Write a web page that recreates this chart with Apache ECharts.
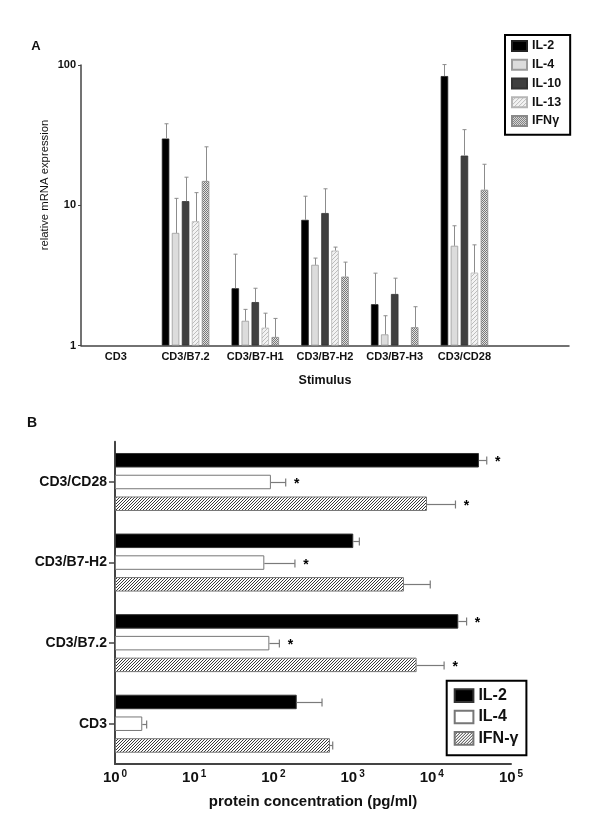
<!DOCTYPE html>
<html><head><meta charset="utf-8">
<script src="https://cdn.jsdelivr.net/npm/echarts@6/dist/echarts.min.js"></script>
<style>
html,body{margin:0;padding:0;background:#fff;width:600px;height:831px;overflow:hidden}
#a{position:absolute;left:0;top:0;width:600px;height:395px}
#b{position:absolute;left:0;top:395px;width:600px;height:436px}
</style>
</head><body><div id="a"></div><div id="b"></div>
<script>
// ---------- Panel A data ----------
const categoriesA = ['CD3','CD3/B7.2','CD3/B7-H1','CD3/B7-H2','CD3/B7-H3','CD3/CD28',''];
const seriesNamesA = ['IL-2','IL-4','IL-10','IL-13','IFNγ'];
const il2A     = [null, 29.9, 2.56, 7.87, 1.97, 83.4, null];
const il2AErr  = [null, 38.1, 4.48, 11.6, 3.28, 100.7, null];
const il4A     = [null, 6.35, 1.50, 3.76, 1.20, 5.14, null];
const il4AErr  = [null, 11.2, 1.81, 4.20, 1.63, 7.14, null];
const il10A    = [null, 10.7, 2.04, 8.80, 2.33, 22.6, null];
const il10AErr = [null, 15.85, 2.56, 13.1, 3.02, 34.6, null];
const il13A    = [null, 7.69, 1.34, 4.75, null, 3.31, null];
const il13AErr = [null, 12.3, 1.70, 5.03, null, 5.22, null];
const ifnA     = [null, 14.9, 1.15, 3.10, 1.35, 12.9, null];
const ifnAErr  = [null, 26.1, 1.56, 3.93, 1.89, 19.6, null];
const tickLabelsA = ['1','10','100'];

// ---------- Panel B data ----------
const categoriesB = ['CD3','CD3/B7.2','CD3/B7-H2','CD3/CD28'];
const seriesNamesB = ['IL-2','IL-4','IFN-γ'];
const il2B    = [197, 21600, 1020, 39400];
const il2BErr = [411, 27500, 1217, 49400];
const il4B    = [2.21, 88.9, 76.8, 93];
const il4BErr = [2.51, 119, 187, 143];
const ifnB    = [518, 6430, 4450, 8700];
const ifnBErr = [561, 14300, 9560, 19900];
const sigIL2B = [0, 1, 0, 1];
const sigIL4B = [0, 1, 1, 1];
const sigIFNB = [0, 1, 0, 1];
const tickExpB = ['0','1','2','3','4','5'];

const FONT = '"Liberation Sans", Arial, Helvetica, sans-serif';

function pat(w, h, bg, fg, cells) {
  const c = document.createElement('canvas');
  c.width = w; c.height = h;
  const g = c.getContext('2d');
  g.fillStyle = bg; g.fillRect(0, 0, w, h);
  g.fillStyle = fg;
  cells.forEach(p => g.fillRect(p[0], p[1], 1, 1));
  return { image: c, repeat: 'repeat' };
}

function errSeries(vals, errs, sig, slot, mid, pitch, horizontal, color, cap) {
  const data = [];
  vals.forEach((v, i) => {
    if (v != null && errs[i] != null) data.push([i, v, errs[i], sig ? sig[i] : 0]);
  });
  return {
    type: 'custom', silent: true, z: 5, data,
    encode: horizontal ? { x: [1, 2], y: 0 } : { x: 0, y: [1, 2] },
    renderItem(params, api) {
      const cat = api.value(0), v = api.value(1), e = api.value(2), s = api.value(3);
      const off = (slot - mid) * pitch;
      const ch = [];
      if (!horizontal) {
        const p0 = api.coord([cat, v]), p1 = api.coord([cat, e]);
        const x = Math.round(p0[0] + off) + 0.5;
        ch.push({ type: 'line', shape: { x1: x, y1: p0[1], x2: x, y2: p1[1] }, style: { stroke: color, lineWidth: 1 } });
        ch.push({ type: 'line', shape: { x1: x - cap, y1: p1[1], x2: x + cap, y2: p1[1] }, style: { stroke: color, lineWidth: 1 } });
      } else {
        const p0 = api.coord([v, cat]), p1 = api.coord([e, cat]);
        const y = Math.round(p0[1] + off) + 0.5;
        ch.push({ type: 'line', shape: { x1: p0[0], y1: y, x2: p1[0], y2: y }, style: { stroke: color, lineWidth: 1.2 } });
        ch.push({ type: 'line', shape: { x1: p1[0], y1: y - cap, x2: p1[0], y2: y + cap }, style: { stroke: color, lineWidth: 1.2 } });
        if (s) ch.push({ type: 'text', style: { text: '*', x: p1[0] + 11, y: y + 2, align: 'center', verticalAlign: 'middle', font: 'bold 14px ' + FONT, fill: '#000' } });
      }
      return { type: 'group', children: ch };
    }
  };
}

// ---------- Chart A ----------
const colorsA = [
  { color: '#000000', border: '#222' },
  { color: '#dcdcdc', border: '#9a9a9a' },
  { color: '#404040', border: '#333' },
  { color: pat(4, 4, '#f3f3f3', '#bcbcbc', [[0,3],[1,2],[2,1],[3,0]]), border: '#b5b5b5' },
  { color: pat(2, 2, '#e2e2e2', '#777777', [[0,0],[1,1]]), border: '#8a8a8a' }
];
const valsA = [il2A, il4A, il10A, il13A, ifnA];
const errsA = [il2AErr, il4AErr, il10AErr, il13AErr, ifnAErr];

const seriesA = [];
valsA.forEach((vals, k) => {
  seriesA.push({
    name: seriesNamesA[k], type: 'bar', data: vals, barWidth: 7.5, barGap: '33.3%',
    itemStyle: { color: colorsA[k].color, borderColor: colorsA[k].border, borderWidth: 0.8 },
    emphasis: { disabled: true }
  });
});
valsA.forEach((vals, k) => seriesA.push(errSeries(vals, errsA[k], null, k, 2, 10, false, '#8c8c8c', 2)));

const chartA = echarts.init(document.getElementById('a'), null, { renderer: 'canvas' });
chartA.setOption({
  animation: false,
  textStyle: { fontFamily: FONT },
  grid: { left: 81, right: 31, top: 65, bottom: 49.5, containLabel: false },
  legend: {
    orient: 'vertical', left: 505, top: 35, data: seriesNamesA, selectedMode: false,
    icon: 'rect', itemWidth: 15, itemHeight: 10, itemGap: 5,
    padding: [4, 9, 7, 6], borderColor: '#000', borderWidth: 2,
    textStyle: { fontFamily: FONT, fontSize: 12.5, fontWeight: 'bold', color: '#111', lineHeight: 13.75 }
  },
  xAxis: {
    type: 'category', data: categoriesA,
    axisLine: { lineStyle: { color: '#444', width: 1.5 } },
    axisTick: { show: false },
    axisLabel: { fontFamily: FONT, fontSize: 11, fontWeight: 'bold', color: '#111', margin: 6, interval: 0 },
    name: 'Stimulus', nameLocation: 'middle', nameGap: 29,
    nameTextStyle: { fontFamily: FONT, fontSize: 12.5, fontWeight: 'bold', color: '#111' }
  },
  yAxis: {
    type: 'log', logBase: 10, min: 1, max: 100,
    axisLine: { show: true, lineStyle: { color: '#444', width: 1.5 } },
    axisTick: { show: true, length: 3, lineStyle: { color: '#444' } },
    minorTick: { show: false }, splitLine: { show: false },
    axisLabel: { fontFamily: FONT, fontSize: 11, fontWeight: 'bold', color: '#111', margin: 5,
      formatter: v => tickLabelsA[Math.round(Math.log10(v))] }
  },
  graphic: [
    { type: 'text', x: 36, y: 46, style: { text: 'A', font: 'bold 13px ' + FONT, fill: '#111', align: 'center', verticalAlign: 'middle' } },
    { type: 'text', x: 45, y: 185, rotation: Math.PI / 2, style: { text: 'relative mRNA expression', font: '11.3px ' + FONT, fill: '#111', align: 'center', verticalAlign: 'middle' } }
  ],
  series: seriesA
});

// ---------- Chart B ----------
const colorsB = [
  { color: '#000000', border: '#333' },
  { color: '#ffffff', border: '#777' },
  { color: pat(3, 3, '#ffffff', '#3a3a3a', [[0,2],[1,1],[2,0]]), border: '#777' }
];
const valsB = [il2B, il4B, ifnB];
const errsB = [il2BErr, il4BErr, ifnBErr];
const sigsB = [sigIL2B, sigIL4B, sigIFNB];

const seriesB = [];
valsB.forEach((vals, k) => {
  seriesB.push({
    name: seriesNamesB[k], type: 'bar', data: vals, barWidth: 14.5, barGap: '50%',
    itemStyle: { color: colorsB[k].color, borderColor: colorsB[k].border, borderWidth: 1 },
    emphasis: { disabled: true }
  });
});
valsB.forEach((vals, k) => seriesB.push(errSeries(vals, errsB[k], sigsB[k], k, 1, 21.75, true, '#7a7a7a', 4)));

const chartB = echarts.init(document.getElementById('b'), null, { renderer: 'canvas' });
chartB.setOption({
  animation: false,
  textStyle: { fontFamily: FONT },
  grid: { left: 115, right: 89, top: 46.7, bottom: 67, containLabel: false },
  legend: {
    orient: 'vertical', left: 446.7, top: 285.7, data: seriesNamesB, selectedMode: false,
    icon: 'rect', itemWidth: 18.7, itemHeight: 12.7, itemGap: 5.3,
    padding: [7, 8, 9, 7], borderColor: '#000', borderWidth: 2,
    textStyle: { fontFamily: FONT, fontSize: 16, fontWeight: 'bold', color: '#111', lineHeight: 16 }
  },
  xAxis: {
    type: 'log', logBase: 10, min: 1, max: 100000,
    axisLine: { show: true, lineStyle: { color: '#444', width: 2 } },
    axisTick: { show: false }, minorTick: { show: false }, splitLine: { show: false },
    axisLabel: {
      margin: 5,
      formatter: v => '{b|10}{s|' + tickExpB[Math.round(Math.log10(v))] + '}',
      rich: {
        b: { fontFamily: FONT, fontSize: 15, fontWeight: 'bold', color: '#111' },
        s: { fontFamily: FONT, fontSize: 10, fontWeight: 'bold', color: '#111', verticalAlign: 'top', padding: [0, 0, 8, 2] }
      }
    },
    name: 'protein concentration (pg/ml)', nameLocation: 'middle', nameGap: 30,
    nameTextStyle: { fontFamily: FONT, fontSize: 15, fontWeight: 'bold', color: '#111' }
  },
  yAxis: {
    type: 'category', data: categoriesB,
    axisLine: { show: true, lineStyle: { color: '#444', width: 2 } },
    axisTick: { show: true, alignWithLabel: true, length: 6, lineStyle: { color: '#444', width: 1.5 } },
    axisLabel: { fontFamily: FONT, fontSize: 14, fontWeight: 'bold', color: '#111', margin: 8 }
  },
  graphic: [
    { type: 'text', x: 32, y: 28, style: { text: 'B', font: 'bold 14px ' + FONT, fill: '#111', align: 'center', verticalAlign: 'middle' } }
  ],
  series: seriesB
});
</script>
</body></html>
